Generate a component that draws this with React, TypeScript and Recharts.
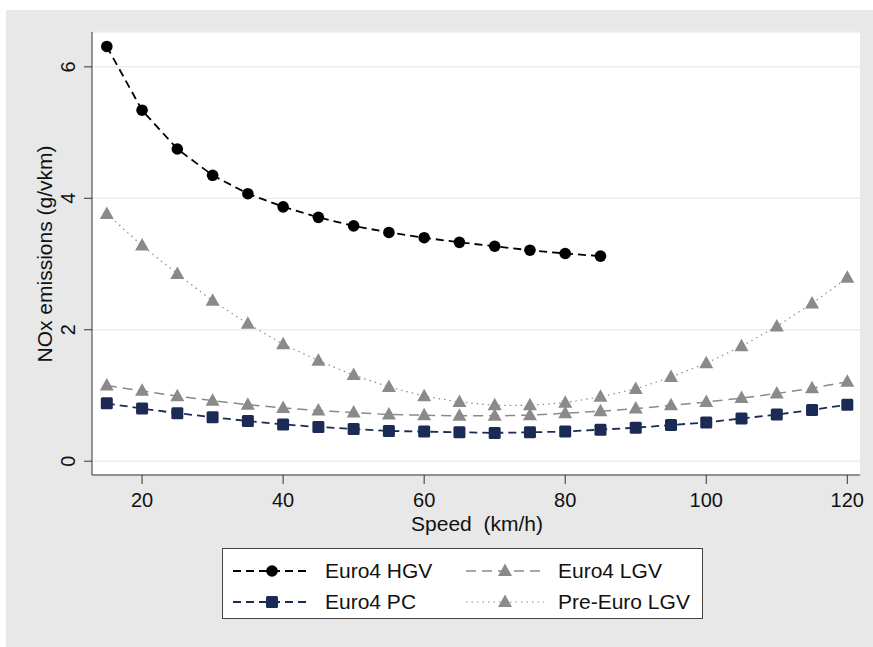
import React from 'react';
import { LineChart, Line, XAxis, YAxis, CartesianGrid } from 'recharts';

const speeds = [15, 20, 25, 30, 35, 40, 45, 50, 55, 60, 65, 70, 75, 80, 85, 90, 95, 100, 105, 110, 115, 120];
const euro4Hgv = [6.31, 5.34, 4.75, 4.35, 4.07, 3.87, 3.71, 3.58, 3.48, 3.40, 3.33, 3.27, 3.21, 3.16, 3.12];
const euro4Pc = [0.88, 0.80, 0.73, 0.67, 0.61, 0.56, 0.52, 0.49, 0.46, 0.45, 0.44, 0.43, 0.44, 0.45, 0.48, 0.51, 0.55, 0.59, 0.65, 0.71, 0.78, 0.86];
const euro4Lgv = [1.15, 1.07, 0.99, 0.92, 0.86, 0.81, 0.77, 0.74, 0.71, 0.70, 0.69, 0.69, 0.70, 0.73, 0.76, 0.80, 0.85, 0.90, 0.96, 1.03, 1.11, 1.21];
const preEuroLgv = [3.76, 3.28, 2.85, 2.44, 2.09, 1.78, 1.53, 1.31, 1.13, 0.99, 0.90, 0.85, 0.85, 0.89, 0.98, 1.10, 1.28, 1.49, 1.75, 2.05, 2.40, 2.79];
const xTicks = [20, 40, 60, 80, 100, 120];
const yTicks = [0, 2, 4, 6];

const FONT = '"Liberation Sans", Arial, sans-serif';
const AXIS = '#333333';
const GRAY = '#8a8a8a';
const NAVY = '#1c2b55';

type Shape = 'circle' | 'square' | 'triangle';

const series = [
  { key: 'preEuroLgv', name: 'Pre-Euro LGV', color: GRAY, dash: '1.5 4', shape: 'triangle' as Shape, width: 1.2 },
  { key: 'euro4Lgv', name: 'Euro4 LGV', color: GRAY, dash: '10 6', shape: 'triangle' as Shape, width: 1.5 },
  { key: 'euro4Pc', name: 'Euro4 PC', color: NAVY, dash: '8 5', shape: 'square' as Shape, width: 1.8 },
  { key: 'euro4Hgv', name: 'Euro4 HGV', color: '#000000', dash: '8 5', shape: 'circle' as Shape, width: 1.8 },
];

const data = speeds.map((s, i) => ({
  speed: s,
  euro4Hgv: i < euro4Hgv.length ? euro4Hgv[i] : null,
  euro4Pc: euro4Pc[i],
  euro4Lgv: euro4Lgv[i],
  preEuroLgv: preEuroLgv[i],
}));

function marker(shape: Shape, color: string, cx: number, cy: number, key?: string) {
  if (shape === 'circle') return <circle key={key} cx={cx} cy={cy} r={5.8} fill={color} />;
  if (shape === 'square')
    return <rect key={key} x={cx - 6} y={cy - 6} width={12} height={12} rx={1.5} fill={color} />;
  return (
    <path key={key} d={`M${cx},${cy - 7.5} L${cx + 7},${cy + 5} L${cx - 7},${cy + 5} Z`} fill={color} />
  );
}

const makeDot = (shape: Shape, color: string) => (p: any) => {
  const k = `dot-${p.index}`;
  if (p.cy == null || p.value == null) return <g key={k} />;
  return marker(shape, color, p.cx, p.cy, k);
};

const YTick = (p: any) => {
  const x = p.x - 14;
  return (
    <text x={x} y={p.y} transform={`rotate(-90 ${x} ${p.y})`} textAnchor="middle" dominantBaseline="central"
      fontSize={20} fontFamily={FONT} fill="#111">
      {p.payload.value}
    </text>
  );
};

const XTick = (p: any) => (
  <text x={p.x} y={507} textAnchor="middle" fontSize={20} fontFamily={FONT} fill="#111">
    {p.payload.value}
  </text>
);

const legendOrder = ['euro4Hgv', 'euro4Lgv', 'euro4Pc', 'preEuroLgv'];

export default function App() {
  return (
    <div style={{ position: 'absolute', left: 0, top: 0, width: 873, height: 647, background: '#fff' }}>
      <div style={{ position: 'absolute', left: 6, top: 10, width: 867, height: 637, background: '#e8e8e8' }} />
      <div style={{ position: 'absolute', left: 0, top: 0 }}>
        <LineChart width={873} height={647} data={data} margin={{ top: 32, right: 13, left: 32, bottom: 142 }}>
          <CartesianGrid vertical={false} stroke="#e6f0f2" strokeWidth={1.5} fill="#ffffff" />
          <XAxis
            dataKey="speed"
            type="number"
            domain={[12.9, 121.8]}
            ticks={xTicks}
            allowDataOverflow
            height={30}
            stroke={AXIS}
            tickSize={9}
            tick={XTick}
            label={{
              content: () => (
                <text x={477} y={531} textAnchor="middle" fontSize={21} fontFamily={FONT} fill="#111" style={{ whiteSpace: 'pre' }}>
                  {'Speed  (km/h)'}
                </text>
              ),
            }}
          />
          <YAxis
            type="number"
            domain={[-0.21, 6.53]}
            ticks={yTicks}
            allowDataOverflow
            width={60}
            stroke={AXIS}
            tickSize={8}
            tick={YTick}
            label={{
              content: () => (
                <text x={44} y={254} transform="rotate(-90 44 254)" textAnchor="middle" dominantBaseline="central"
                  fontSize={21} fontFamily={FONT} fill="#111">
                  NOx emissions (g/vkm)
                </text>
              ),
            }}
          />
          {series.map((s) => (
            <Line
              key={s.key}
              dataKey={s.key}
              name={s.name}
              type="linear"
              stroke={s.color}
              strokeWidth={s.width}
              strokeDasharray={s.dash}
              dot={makeDot(s.shape, s.color)}
              activeDot={false}
              isAnimationActive={false}
            />
          ))}
        </LineChart>
      </div>
      <div style={{ position: 'absolute', left: 222, top: 548, width: 479, height: 69, background: '#fff', border: '1px solid #444' }}>
        {legendOrder.map((k, i) => {
          const s = series.find((x) => x.key === k)!;
          const col = i % 2;
          const row = Math.floor(i / 2);
          return (
            <div key={k} style={{ position: 'absolute', left: col === 0 ? 9 : 242, top: row === 0 ? 7 : 38, height: 30, display: 'flex', alignItems: 'center' }}>
              <svg width={80} height={30}>
                <line x1={1} y1={15} x2={79} y2={15} stroke={s.color} strokeWidth={s.width} strokeDasharray={s.dash} />
                {marker(s.shape, s.color, 40, 15)}
              </svg>
              <span style={{ marginLeft: 13, fontSize: 21, fontFamily: FONT, color: '#111' }}>{s.name}</span>
            </div>
          );
        })}
      </div>
    </div>
  );
}
